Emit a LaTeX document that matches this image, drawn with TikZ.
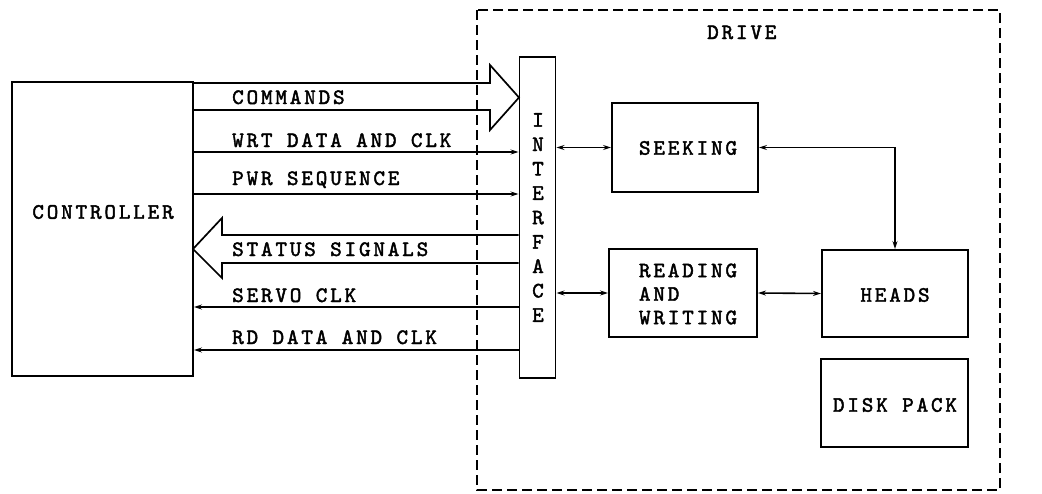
\documentclass[tikz,border=0pt]{standalone}
\usepackage{fontspec}
\usetikzlibrary{arrows.meta}
\newfontfamily\tw{lmmono10-regular}[Extension=.otf, LetterSpace=13, FakeBold=2]
\begin{document}
\begin{tikzpicture}[x=1pt,y=-1pt,
  every node/.style={font=\tw\fontsize{22}{23.5}\selectfont, inner sep=0pt},
  box/.style={draw, line width=1.9pt, rectangle},
  lbl/.style={anchor=base west},
  sig/.style={line width=1.6pt, -{Stealth[length=8pt,width=5pt]}},
  bi/.style={line width=1.6pt, {Stealth[length=8pt,width=5pt]}-{Stealth[length=8pt,width=5pt]}},
  fat/.style={line width=1.7pt, line join=miter},
  drivebox/.style={line width=1.6pt, dash pattern=on 10pt off 5pt}]
\useasboundingbox (0,0) rectangle (1042,493);
% boxes
\node[box, minimum width=181pt, minimum height=294pt] (ctrl) at (102.5,229) {};
\node (ctrltext) at (103,212) {CONTROLLER};
\draw[drivebox] (477,10) rectangle (1000,490);
\node[lbl] (drive) at (707,39) {DRIVE};
\node[box, minimum width=36pt, minimum height=321pt] (iface) at (537.5,217.5) {};
\node[align=center, font=\tw\fontsize{22}{24.4}\selectfont] (ifacetext) at (538,217.5) {I\\N\\T\\E\\R\\F\\A\\C\\E};
\node[box, minimum width=146pt, minimum height=89pt] (seek) at (685,147.5) {};
\node (seektext) at (688,148) {SEEKING};
\node[box, minimum width=148pt, minimum height=88pt] (read) at (683,293) {};
\node[align=left] (readtext) at (688,294) {READING\\AND\\WRITING};
\node[box, minimum width=146pt, minimum height=87pt] (heads) at (895,293.5) {};
\node (headstext) at (895,295) {HEADS};
\node[box, minimum width=147pt, minimum height=88pt] (disk) at (894.5,403) {};
\node (disktext) at (895,405) {DISK PACK};
% commands fat arrow
\coordinate (ctip) at (519,97.5);
\draw[fat] (ctrl.east |- 0,83) -- (490,83) -- (490,65) -- (ctip) -- (490,130) -- (490,110) -- (ctrl.east |- 0,110);
\node[lbl] (cmdl) at (232,104) {COMMANDS};
% status fat arrow
\coordinate (stip) at (193,249);
\draw[fat] (iface.west |- 0,235) -- (222,235) -- (222,218) -- (stip) -- (222,278) -- (222,263) -- (iface.west |- 0,263);
\node[lbl] (stl) at (232,256) {STATUS SIGNALS};
% thin signals
\draw[sig] (ctrl.east |- 0,152) -- (iface.west |- 0,152);
\node[lbl] (wrtl) at (232,147) {WRT DATA AND CLK};
\draw[sig] (ctrl.east |- 0,194) -- (iface.west |- 0,194);
\node[lbl] (pwrl) at (232,185) {PWR SEQUENCE};
\draw[sig] (iface.west |- 0,307) -- (ctrl.east |- 0,307);
\node[lbl] (servol) at (232,302) {SERVO CLK};
\draw[sig] (iface.west |- 0,350) -- (ctrl.east |- 0,350);
\node[lbl] (rdl) at (232,344) {RD DATA AND CLK};
% drive internal
\draw[bi] (iface.east |- seek.west) -- (seek.west);
\draw[bi] (iface.east |- read.west) -- (read.west);
\draw[bi] (seek.east) -| (heads.north);
\draw[bi] (read.east) -- (heads.west);
\end{tikzpicture}
\end{document}
